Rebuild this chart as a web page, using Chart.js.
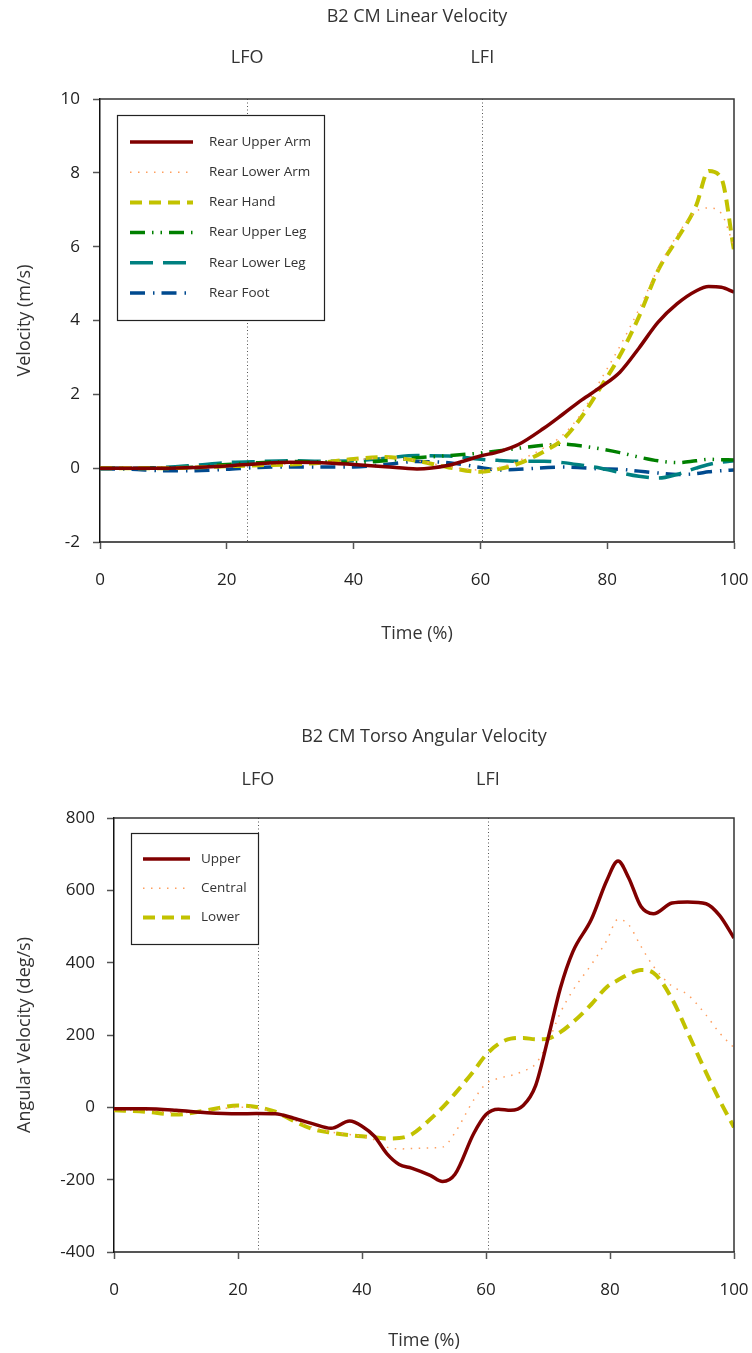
<!DOCTYPE html>
<html>
<head>
<meta charset="utf-8">
<script src="https://cdn.jsdelivr.net/npm/chart.js@4.4.1/dist/chart.umd.min.js"></script>
<style>
    body { margin: 0; background: #fff; }
    .wrap { position: absolute; left: 0; width: 752px; }
    canvas { display: block; }
</style>
</head>
<body>
<div class="wrap" style="top:0"><canvas id="linearChart" width="752" height="660"></canvas></div>
<div class="wrap" style="top:720px"><canvas id="angularChart" width="752" height="633"></canvas></div>
<script>
// ---- Linear velocity (m/s) ----
const linTime = [0, 5, 10, 15, 20, 25, 30, 35, 40, 45, 50, 55, 60, 63, 66, 70, 73, 76, 79, 82, 85, 88, 91, 94, 96, 98, 100];
const upperArm = [0, 0, 0, 0.02, 0.06, 0.12, 0.16, 0.15, 0.1, 0.04, -0.02, 0.08, 0.33, 0.45, 0.64, 1.08, 1.46, 1.85, 2.2, 2.6, 3.25, 3.95, 4.45, 4.8, 4.92, 4.9, 4.77];
const lowerArm = [0, 0, 0, 0.02, 0.06, 0.1, 0.12, 0.15, 0.22, 0.28, 0.2, 0.04, -0.05, 0.02, 0.2, 0.55, 0.9, 1.5, 2.4, 3.3, 4.3, 5.4, 6.3, 6.95, 7.05, 6.9, 6.0];
const rearHand = [0, 0, 0, 0.02, 0.05, 0.08, 0.1, 0.15, 0.25, 0.3, 0.2, 0.02, -0.1, -0.02, 0.12, 0.45, 0.78, 1.4, 2.2, 3.05, 4.1, 5.35, 6.2, 7.1, 8.05, 7.85, 5.9];
const upperLeg = [0, 0, 0, 0.03, 0.1, 0.15, 0.18, 0.17, 0.15, 0.2, 0.28, 0.34, 0.41, 0.47, 0.54, 0.62, 0.65, 0.6, 0.52, 0.42, 0.3, 0.2, 0.15, 0.2, 0.24, 0.23, 0.22];
const lowerLeg = [0, 0, 0.02, 0.08, 0.15, 0.18, 0.2, 0.19, 0.2, 0.27, 0.34, 0.33, 0.24, 0.21, 0.19, 0.19, 0.15, 0.08, 0, -0.12, -0.22, -0.27, -0.17, 0, 0.1, 0.16, 0.2];
const rearFoot = [-0.02, -0.03, -0.07, -0.07, -0.03, 0.02, 0.03, 0.03, 0.03, 0.1, 0.18, 0.15, 0.02, -0.05, -0.03, 0.01, 0.03, 0.01, -0.02, -0.03, -0.08, -0.13, -0.17, -0.15, -0.1, -0.07, -0.05];

// ---- Torso angular velocity (deg/s) ----
const angTime = [0, 5, 10, 15, 20, 23, 26, 29, 32, 35, 38, 40, 42, 44, 46, 48, 51, 53, 55, 58, 60, 62, 64, 66, 68, 70, 72, 74, 77, 79.5, 81.3, 83, 85, 87, 90, 92.5, 95.5, 97.7, 100];
const torsoUpper = [-4, -4, -8, -15, -18, -17, -18, -30, -45, -58, -38, -52, -80, -128, -158, -168, -188, -205, -185, -73, -20, -5, -8, 5, 60, 190, 330, 430, 520, 628, 681, 635, 555, 535, 565, 568, 563, 530, 468];
const torsoCentral = [-8, -8, -15, -10, 0, -2, -15, -35, -55, -68, -75, -80, -90, -110, -115, -114, -112, -110, -70, 20, 65, 80, 88, 100, 120, 180, 262, 323, 395, 462, 520, 505, 445, 390, 335, 312, 255, 205, 165];
const torsoLower = [-8, -12, -20, -8, 5, 1, -12, -38, -60, -70, -77, -80, -83, -86, -85, -75, -33, 0, 38, 100, 145, 175, 190, 192, 188, 190, 208, 235, 285, 333, 352, 368, 380, 372, 300, 208, 96, 19, -55];

// event markers (% of time)
const eventNames = ['LFO', 'LFI'];
const eventTimes = [23.2, 60.3];

const FONT = "'Open Sans', 'Noto Sans', sans-serif";
Chart.defaults.font.family = FONT;
Chart.defaults.font.size = 17;
Chart.defaults.color = '#333';

function toPoints(xs, ys) {
    return xs.map((x, i) => ({ x: x, y: ys[i] }));
}

// draws title, event lines, plot frame and a boxed legend
const annotate = {
    id: 'annotate',
    beforeDatasetsDraw(chart, args, opts) {
        const { ctx, chartArea: a, scales: { x } } = chart;
        ctx.save();
        ctx.strokeStyle = '#555';
        ctx.lineWidth = 1;
        ctx.setLineDash([1, 2.5]);
        eventTimes.forEach(t => {
            const px = Math.round(x.getPixelForValue(t)) + 0.5;
            ctx.beginPath();
            ctx.moveTo(px, a.top);
            ctx.lineTo(px, a.bottom);
            ctx.stroke();
        });
        ctx.restore();
    },
    afterDatasetsDraw(chart, args, opts) {
        const { ctx, chartArea: a, scales: { x } } = chart;
        ctx.save();
        // frame top + right
        ctx.strokeStyle = '#333';
        ctx.lineWidth = 1.5;
        ctx.beginPath();
        ctx.moveTo(a.left, a.top);
        ctx.lineTo(a.right, a.top);
        ctx.lineTo(a.right, a.bottom);
        ctx.stroke();

        // title and event labels
        ctx.fillStyle = '#333';
        ctx.font = '18px ' + FONT;
        ctx.textAlign = 'center';
        ctx.textBaseline = 'middle';
        ctx.fillText(opts.title, (a.left + a.right) / 2, opts.titleY);
        eventTimes.forEach((t, i) => {
            ctx.fillText(eventNames[i], x.getPixelForValue(t), opts.eventY);
        });

        // legend box
        const L = opts.legend;
        ctx.fillStyle = '#fff';
        ctx.fillRect(L.x, L.y, L.w, L.h);
        ctx.strokeStyle = '#222';
        ctx.lineWidth = 1.2;
        ctx.strokeRect(L.x + 0.5, L.y + 0.5, L.w, L.h);
        ctx.font = '13.5px ' + FONT;
        ctx.textAlign = 'left';
        chart.data.datasets.forEach((ds, i) => {
            const yy = L.first + i * L.step;
            ctx.strokeStyle = ds.borderColor;
            ctx.lineWidth = ds.borderWidth;
            ctx.setLineDash(ds.borderDash || []);
            ctx.beginPath();
            ctx.moveTo(L.x + L.sx0, yy);
            ctx.lineTo(L.x + L.sx1, yy);
            ctx.stroke();
            ctx.setLineDash([]);
            ctx.fillStyle = '#333';
            ctx.fillText(ds.label, L.x + L.tx, yy);
        });
        ctx.restore();
    }
};

function makeChart(id, cfg) {
    return new Chart(document.getElementById(id).getContext('2d'), {
        type: 'line',
        data: { datasets: cfg.datasets },
        options: {
            responsive: false,
            animation: false,
            layout: { padding: { top: cfg.padTop, right: 18, bottom: 0, left: 0 } },
            elements: {
                point: { radius: 0 },
                line: { cubicInterpolationMode: 'monotone', fill: false, borderCapStyle: 'butt' }
            },
            plugins: {
                legend: { display: false },
                tooltip: { enabled: false },
                annotate: cfg.annotate
            },
            scales: {
                x: {
                    type: 'linear',
                    min: 0,
                    max: 100,
                    ticks: { stepSize: 20, padding: 21, color: '#222', maxRotation: 0 },
                    grid: { drawOnChartArea: false, tickLength: 7, tickColor: '#555', tickWidth: 1.5 },
                    border: { color: '#555', width: 2 },
                    title: { display: true, text: 'Time (%)', color: '#333', font: { size: 18 }, padding: { bottom: cfg.xTitlePad } },
                    afterFit: s => {
                        s.height = cfg.xHeight;
                        s.paddingLeft = 0;
                        s.paddingRight = 0;
                    }
                },
                y: {
                    min: cfg.yMin,
                    max: cfg.yMax,
                    ticks: { stepSize: cfg.yStep, padding: cfg.yTickPad, color: '#222' },
                    grid: { drawOnChartArea: false, tickLength: 7, tickColor: '#555', tickWidth: 1.5 },
                    border: { color: '#111', width: 1.5 },
                    title: { display: true, text: cfg.yTitle, color: '#333', font: { size: 18 }, padding: { top: 14 } },
                    afterFit: s => {
                        s.width = cfg.yWidth;
                        s.paddingTop = 0;
                        s.paddingBottom = 0;
                    }
                }
            }
        },
        plugins: [annotate]
    });
}

makeChart('linearChart', {
    padTop: 99, xHeight: 118, yWidth: 100, xTitlePad: 15,
    yMin: -2, yMax: 10, yStep: 2, yTickPad: 13,
    yTitle: 'Velocity (m/s)',
    annotate: {
        title: 'B2 CM Linear Velocity', titleY: 17, eventY: 58,
        legend: { x: 117, y: 115, w: 207, h: 205, first: 142, step: 30.2, sx0: 13, sx1: 76, tx: 92 }
    },
    datasets: [
        { label: 'Rear Upper Arm', data: toPoints(linTime, upperArm), borderColor: '#800000', borderWidth: 3.5 },
        { label: 'Rear Lower Arm', data: toPoints(linTime, lowerArm), borderColor: '#FF9F5F', borderWidth: 1.5, borderDash: [1.5, 6.5] },
        { label: 'Rear Hand', data: toPoints(linTime, rearHand), borderColor: '#C2C200', borderWidth: 4, borderDash: [12, 7] },
        { label: 'Rear Upper Leg', data: toPoints(linTime, upperLeg), borderColor: '#008000', borderWidth: 3.5, borderDash: [15, 7, 1.5, 7, 1.5, 7] },
        { label: 'Rear Lower Leg', data: toPoints(linTime, lowerLeg), borderColor: '#008080', borderWidth: 3.5, borderDash: [23, 10] },
        { label: 'Rear Foot', data: toPoints(linTime, rearFoot), borderColor: '#004A8F', borderWidth: 3.5, borderDash: [15, 8, 1.5, 7] }
    ]
});

makeChart('angularChart', {
    padTop: 98, xHeight: 101, yWidth: 114, xTitlePad: 1,
    yMin: -400, yMax: 800, yStep: 200, yTickPad: 12,
    yTitle: 'Angular Velocity (deg/s)',
    annotate: {
        title: 'B2 CM Torso Angular Velocity', titleY: 17, eventY: 60,
        legend: { x: 131, y: 113, w: 127, h: 111, first: 139, step: 29.2, sx0: 12, sx1: 59, tx: 70 }
    },
    datasets: [
        { label: 'Upper', data: toPoints(angTime, torsoUpper), borderColor: '#800000', borderWidth: 3.5 },
        { label: 'Central', data: toPoints(angTime, torsoCentral), borderColor: '#FF9F5F', borderWidth: 1.5, borderDash: [1.5, 6.5] },
        { label: 'Lower', data: toPoints(angTime, torsoLower), borderColor: '#C2C200', borderWidth: 4, borderDash: [12, 7] }
    ]
});
</script>
</body>
</html>
